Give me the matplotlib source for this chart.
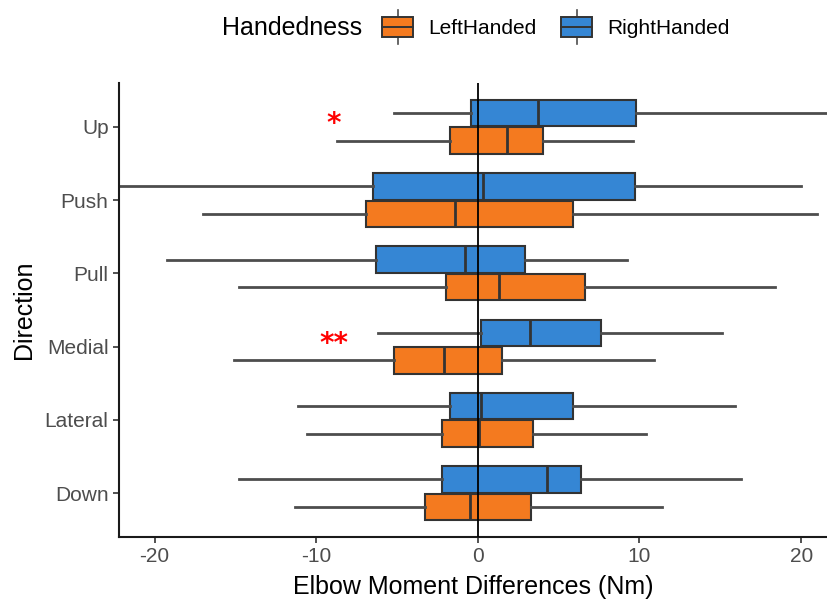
import numpy as np
import matplotlib
matplotlib.use('Agg')
from matplotlib import pyplot as plt
from matplotlib import patches
from matplotlib.lines import Line2D
from matplotlib.legend_handler import HandlerBase

plt.rcParams['font.family'] = ['Liberation Sans', 'DejaVu Sans']
plt.rcParams['axes.unicode_minus'] = False

directions = ['Down', 'Lateral', 'Medial', 'Pull', 'Push', 'Up']
groups = ['LeftHanded', 'RightHanded']
colors = {'LeftHanded': '#F47A1F', 'RightHanded': '#3586D4'}

# five number summaries (order follows directions)
left_lo = [-11.3, -10.6, -15.1, -14.8, -17.0, -8.7]
left_q1 = [-3.3, -2.2, -5.2, -2.0, -6.9, -1.7]
left_med = [-0.5, 0.1, -2.1, 1.3, -1.4, 1.8]
left_q3 = [3.3, 3.4, 1.5, 6.6, 5.9, 4.0]
left_hi = [11.4, 10.4, 10.9, 18.4, 21.0, 9.6]

right_lo = [-14.8, -11.1, -6.2, -19.2, -23.5, -5.2]
right_q1 = [-2.2, -1.7, 0.2, -6.3, -6.5, -0.4]
right_med = [4.3, 0.2, 3.2, -0.8, 0.3, 3.7]
right_q3 = [6.4, 5.9, 7.6, 2.9, 9.7, 9.8]
right_hi = [16.3, 15.9, 15.1, 9.2, 20.0, 23.0]

sig_marks = {'Up': '*', 'Medial': '**'}
sig_x = -8.9

summaries = {
    'LeftHanded': (left_lo, left_q1, left_med, left_q3, left_hi),
    'RightHanded': (right_lo, right_q1, right_med, right_q3, right_hi),
}


class BoxKey(HandlerBase):
    # ggplot-ish boxplot legend key
    def create_artists(self, legend, orig_handle, xdescent, ydescent,
                       width, height, fontsize, trans):
        fc = orig_handle.get_facecolor()
        cy = height / 2 - ydescent
        x0 = -xdescent
        bh = 1.05 * height
        box = patches.Rectangle((x0, cy - bh / 2), width, bh, facecolor=fc,
                                edgecolor='#333333', lw=1.4, transform=trans)
        med = Line2D([x0, x0 + width], [cy, cy], color='#333333', lw=1.4, transform=trans)
        wh = Line2D([x0 + width / 2] * 2, [cy - 0.9 * height, cy + 0.9 * height],
                    color='#4D4D4D', lw=1.2, transform=trans, zorder=0)
        return [wh, box, med]


fig = plt.figure(figsize=(8.27, 6.04), dpi=100)
ax = fig.add_axes([119 / 827, 67 / 604, 708 / 827, 454 / 604])

pos = np.arange(1, len(directions) + 1)
offsets = {'LeftHanded': -0.1875, 'RightHanded': 0.1875}

for g in groups:
    lo, q1, med, q3, hi = summaries[g]
    stats = []
    for i in range(len(directions)):
        stats.append(dict(whislo=lo[i], q1=q1[i], med=med[i], q3=q3[i], whishi=hi[i],
                          fliers=[], label=directions[i]))
    ax.bxp(stats, positions=pos + offsets[g], widths=0.36, orientation='horizontal',
           patch_artist=True, showcaps=False, showfliers=False, manage_ticks=False,
           boxprops=dict(facecolor=colors[g], edgecolor='#333333', linewidth=1.5),
           medianprops=dict(color='#333333', linewidth=2.0),
           whiskerprops=dict(color='#4D4D4D', linewidth=2.0))

ax.axvline(0, color='black', lw=1.3, zorder=5)

for d, mark in sig_marks.items():
    y = pos[directions.index(d)]
    ax.text(sig_x, y + 0.04, mark, color='red', fontsize=20, ha='center', va='center',
            family='DejaVu Sans', fontweight='bold')

ax.set_xlim(-22.2, 21.6)
ax.set_ylim(0.4, 6.6)
ax.set_xticks([-20, -10, 0, 10, 20])
ax.set_yticks(pos)
ax.set_yticklabels(directions)
ax.set_xlabel('Elbow Moment Differences (Nm)', fontsize=18, labelpad=6)
ax.set_ylabel('Direction', fontsize=18, labelpad=6)
ax.tick_params(labelsize=15, labelcolor='#4D4D4D', length=4, width=1.2, color='#333333')
for s in ['top', 'right']:
    ax.spines[s].set_visible(False)
for s in ['left', 'bottom']:
    ax.spines[s].set_linewidth(1.5)
    ax.spines[s].set_color('#1A1A1A')

fig.text(222 / 827, 1 - 28 / 604, 'Handedness', fontsize=18, ha='left', va='center')
handles = [patches.Patch(facecolor=colors[g]) for g in groups]
fig.legend(handles, groups, handler_map={patches.Patch: BoxKey()},
           loc='center left', bbox_to_anchor=(382 / 827, 1 - 28 / 604), ncol=2,
           frameon=False, fontsize=15, borderpad=0, borderaxespad=0,
           handlelength=1.5, handleheight=1.0, handletextpad=0.7, columnspacing=1.2)

fig.savefig('out.png', dpi=100)
